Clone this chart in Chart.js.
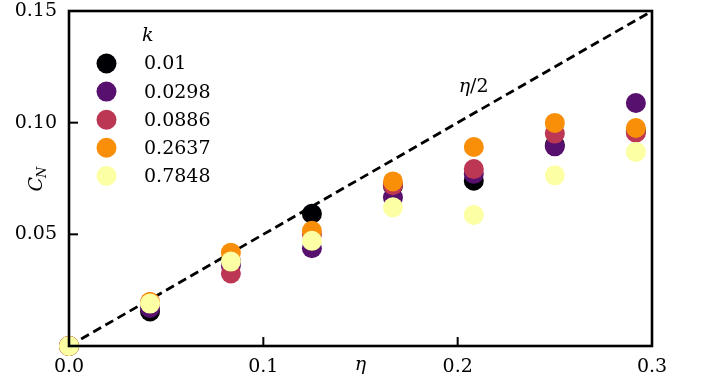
<!DOCTYPE html>
<html>
<head>
<meta charset="utf-8">
<script src="https://cdn.jsdelivr.net/npm/chart.js@4/dist/chart.umd.min.js"></script>
<style>
  html, body { margin: 0; padding: 0; background: #fff; }
  #wrap { width: 704px; height: 386px; }
</style>
</head>
<body>
<div id="wrap"><canvas id="c" width="704" height="386"></canvas></div>
<script>
// eta values shared by every series
const eta = [0, 0.0417, 0.0833, 0.125, 0.1667, 0.2083, 0.25, 0.2917];

// C_N for each k
const kLabels = ['0.01', '0.0298', '0.0886', '0.2637', '0.7848'];
const cnK001   = [0, 0.0155, 0.0380, 0.0592, 0.0717, 0.0740, 0.0900, 0.0960];
const cnK0298  = [0, 0.0170, 0.0360, 0.0438, 0.0665, 0.0771, 0.0894, 0.1088];
const cnK0886  = [0, 0.0196, 0.0325, 0.0500, 0.0720, 0.0792, 0.0951, 0.0955];
const cnK2637  = [0, 0.0197, 0.0418, 0.0516, 0.0737, 0.0891, 0.0999, 0.0976];
const cnK7848  = [0, 0.0190, 0.0378, 0.0471, 0.0621, 0.0587, 0.0764, 0.0869];
const seriesValues = [cnK001, cnK0298, cnK0886, cnK2637, cnK7848];

// reference line C_N = eta/2
const refEta = [0, 0.3];

const xTicks = [0, 0.1, 0.2, 0.3];
const yTicks = [0.05, 0.10, 0.15];

const colors = ['#000004', '#57106e', '#bc3754', '#f98e09', '#fcffa4'];
const SERIF = '"DejaVu Serif", serif';

const datasets = seriesValues.map((vals, i) => ({
  type: 'scatter',
  label: kLabels[i],
  data: eta.map((e, j) => ({ x: e, y: vals[j] })),
  backgroundColor: colors[i],
  borderWidth: 0,
  pointRadius: 10,
  pointHoverRadius: 10,
  clip: false,
  order: 5 - i
}));

datasets.push({
  type: 'line',
  label: 'eta/2',
  data: refEta.map(e => ({ x: e, y: e / 2 })),
  borderColor: '#000',
  borderWidth: 2.8,
  borderDash: [9, 5],
  pointRadius: 0,
  fill: false,
  order: 10
});

const decor = {
  id: 'decor',
  afterDatasetsDraw(chart) {
    const { ctx, chartArea: a, scales: { x, y } } = chart;
    ctx.save();

    // frame
    ctx.strokeStyle = '#000';
    ctx.lineWidth = 2.6;
    ctx.strokeRect(a.left, a.top, a.right - a.left, a.bottom - a.top);

    // inward tick marks
    ctx.lineWidth = 2;
    [0.1, 0.2].forEach(v => {
      const px = x.getPixelForValue(v);
      ctx.beginPath(); ctx.moveTo(px, a.bottom); ctx.lineTo(px, a.bottom - 9); ctx.stroke();
    });
    [0.05, 0.10].forEach(v => {
      const py = y.getPixelForValue(v);
      ctx.beginPath(); ctx.moveTo(a.left, py); ctx.lineTo(a.left + 9, py); ctx.stroke();
    });

    ctx.fillStyle = '#000';

    // eta/2 annotation
    ctx.textBaseline = 'middle';
    ctx.textAlign = 'left';
    const lx = x.getPixelForValue(0.2005), ly = y.getPixelForValue(0.1160);
    ctx.font = 'italic 19px ' + SERIF;
    ctx.fillText('η', lx, ly);
    const w = ctx.measureText('η').width;
    ctx.font = '19px ' + SERIF;
    ctx.fillText('/2', lx + w, ly);

    // x-axis title, level with tick labels
    ctx.font = 'italic 19px ' + SERIF;
    ctx.textAlign = 'center';
    ctx.textBaseline = 'top';
    ctx.fillText('η', (a.left + a.right) / 2, a.bottom + 10);

    // y-axis title C_N
    ctx.save();
    ctx.translate(42, (a.top + a.bottom) / 2);
    ctx.rotate(-Math.PI / 2);
    ctx.textBaseline = 'alphabetic';
    ctx.textAlign = 'left';
    ctx.font = 'italic 19px ' + SERIF;
    const wc = ctx.measureText('C').width;
    ctx.font = 'italic 13px ' + SERIF;
    const wn = ctx.measureText('N').width;
    const sx = -(wc + wn) / 2;
    ctx.font = 'italic 19px ' + SERIF;
    ctx.fillText('C', sx, 0);
    ctx.font = 'italic 13px ' + SERIF;
    ctx.fillText('N', sx + wc - 1, 4);
    ctx.restore();

    // legend
    ctx.textAlign = 'left';
    ctx.textBaseline = 'middle';
    ctx.font = 'italic 19px ' + SERIF;
    ctx.fillText('k', 142, 36);
    ctx.font = '19px ' + SERIF;
    for (let i = 0; i < kLabels.length; i++) {
      const cy = 63.5 + i * 28.1;
      ctx.beginPath();
      ctx.arc(106.5, cy, 10, 0, Math.PI * 2);
      ctx.fillStyle = colors[i];
      ctx.fill();
      ctx.fillStyle = '#000';
      ctx.fillText(kLabels[i], 144, cy + 1);
    }

    ctx.restore();
  }
};

new Chart(document.getElementById('c'), {
  data: { datasets },
  options: {
    responsive: false,
    animation: false,
    devicePixelRatio: 1,
    layout: { padding: { top: 11, right: 52, left: 0, bottom: 0 } },
    plugins: { legend: { display: false }, tooltip: { enabled: false } },
    events: [],
    scales: {
      x: {
        type: 'linear',
        min: 0, max: 0.3,
        afterBuildTicks: s => { s.ticks = xTicks.map(v => ({ value: v })); },
        ticks: {
          callback: v => v.toFixed(1),
          font: { family: SERIF, size: 19 },
          color: '#000',
          padding: 10,
          maxRotation: 0
        },
        grid: { display: false, drawTicks: false },
        border: { display: false },
        afterFit: s => { s.height = 40; s.paddingLeft = 0; s.paddingRight = 0; }
      },
      y: {
        type: 'linear',
        min: 0, max: 0.15,
        afterBuildTicks: s => { s.ticks = yTicks.map(v => ({ value: v })); },
        ticks: {
          callback: v => v.toFixed(2),
          font: { family: SERIF, size: 19 },
          color: '#000',
          padding: 12
        },
        grid: { display: false, drawTicks: false },
        border: { display: false },
        afterFit: s => { s.width = 69; s.paddingTop = 0; s.paddingBottom = 0; }
      }
    }
  },
  plugins: [decor]
});
</script>
</body>
</html>
